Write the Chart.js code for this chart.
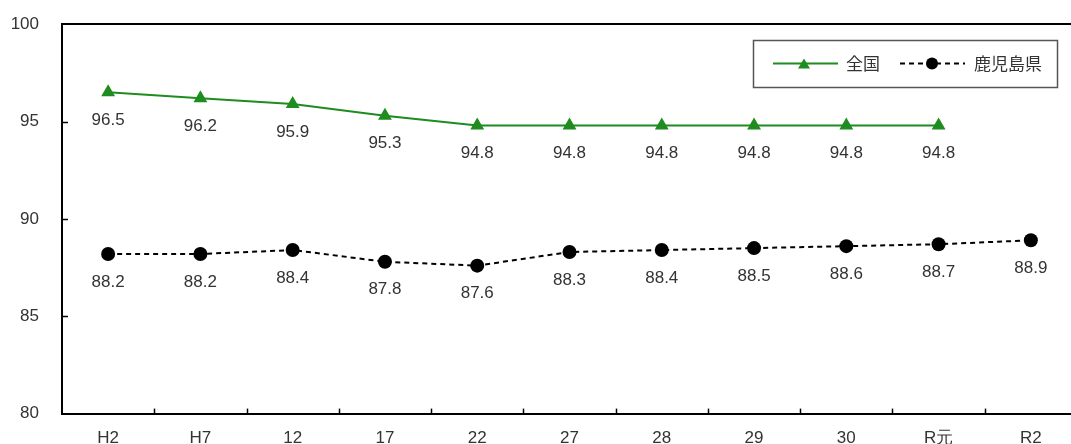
<!DOCTYPE html>
<html>
<head>
<meta charset="utf-8">
<script src="https://cdn.jsdelivr.net/npm/chart.js@4.4.1/dist/chart.umd.min.js"></script>
<style>
  html, body { margin: 0; padding: 0; background: #fff; overflow: hidden; }
  #wrap { position: relative; width: 1085px; height: 473px; margin-top: -9px; }
</style>
</head>
<body>
<div id="wrap"><canvas id="chart"></canvas></div>
<script>
// data
const years = ['H2', 'H7', '12', '17', '22', '27', '28', '29', '30', 'R元', 'R2'];
const national = [96.5, 96.2, 95.9, 95.3, 94.8, 94.8, 94.8, 94.8, 94.8, 94.8, null];
const kagoshima = [88.2, 88.2, 88.4, 87.8, 87.6, 88.3, 88.4, 88.5, 88.6, 88.7, 88.9];
const yTicks = [80, 85, 90, 95, 100];

const GREEN = '#1e8c1e';
const TEXT = '#333';
const FONT = "'Liberation Sans', Arial, sans-serif";

// inner tick marks, value labels, legend box
const decor = {
  id: 'decor',
  afterDraw(chart) {
    const { ctx, chartArea: a, scales: { x, y } } = chart;
    ctx.save();
    ctx.strokeStyle = '#000';
    ctx.lineWidth = 1.5;
    // x ticks between categories, pointing up
    for (let i = 1; i < years.length; i++) {
      const px = Math.round((x.getPixelForValue(i - 1) + x.getPixelForValue(i)) / 2) + 0.5;
      ctx.beginPath();
      ctx.moveTo(px, a.bottom);
      ctx.lineTo(px, a.bottom - 5);
      ctx.stroke();
    }
    // y ticks pointing right
    yTicks.slice(1, -1).forEach(v => {
      const py = Math.round(y.getPixelForValue(v)) + 0.5;
      ctx.beginPath();
      ctx.moveTo(a.left, py);
      ctx.lineTo(a.left + 6, py);
      ctx.stroke();
    });

    // value labels
    ctx.font = '17px ' + FONT;
    ctx.fillStyle = TEXT;
    ctx.textAlign = 'center';
    ctx.textBaseline = 'middle';
    chart.data.datasets.forEach((ds, di) => {
      chart.getDatasetMeta(di).data.forEach((pt, i) => {
        if (ds.data[i] == null) return;
        ctx.fillText(ds.data[i].toFixed(1), pt.x, pt.y + 28);
      });
    });

    // legend (page is shifted up 9px)
    const lx = 753, ly = 49, lw = 304, lh = 47;
    ctx.strokeStyle = '#555';
    ctx.lineWidth = 1.5;
    ctx.strokeRect(lx + 0.5, ly + 0.5, lw, lh);
    const cy = ly + lh / 2;
    // national
    ctx.strokeStyle = GREEN;
    ctx.lineWidth = 2;
    ctx.beginPath(); ctx.moveTo(773, cy); ctx.lineTo(838, cy); ctx.stroke();
    ctx.fillStyle = GREEN;
    ctx.beginPath();
    ctx.moveTo(804, cy - 5); ctx.lineTo(810, cy + 5); ctx.lineTo(798, cy + 5); ctx.closePath(); ctx.fill();
    ctx.fillStyle = TEXT;
    ctx.textAlign = 'left';
    ctx.font = '17px ' + "'Noto Sans CJK JP', sans-serif";
    ctx.fillText('全国', 846, cy);
    // kagoshima
    ctx.strokeStyle = '#000';
    ctx.setLineDash([5, 4]);
    ctx.beginPath(); ctx.moveTo(900, cy); ctx.lineTo(965, cy); ctx.stroke();
    ctx.setLineDash([]);
    ctx.fillStyle = '#000';
    ctx.beginPath(); ctx.arc(932, cy, 6, 0, Math.PI * 2); ctx.fill();
    ctx.fillStyle = TEXT;
    ctx.fillText('鹿児島県', 974, cy);
    ctx.restore();
  }
};

new Chart(document.getElementById('chart'), {
  type: 'line',
  data: {
    labels: years,
    datasets: [{
      label: '全国',
      data: national,
      borderColor: GREEN,
      backgroundColor: GREEN,
      borderWidth: 2,
      pointStyle: 'triangle',
      pointRadius: 8,
      pointBorderWidth: 0,
      tension: 0,
    }, {
      label: '鹿児島県',
      data: kagoshima,
      borderColor: '#000',
      backgroundColor: '#000',
      borderWidth: 2,
      borderDash: [5, 4],
      pointStyle: 'circle',
      pointRadius: 7,
      pointBorderWidth: 0,
      tension: 0,
    }]
  },
  options: {
    responsive: true,
    maintainAspectRatio: false,
    animation: false,
    layout: { padding: { top: 0, right: 0, left: 10, bottom: 0 } },
    plugins: { legend: { display: false }, tooltip: { enabled: false } },
    scales: {
      x: {
        offset: true,
        grid: { display: false, drawTicks: false },
        border: { display: true, color: '#000', width: 2 },
        ticks: { color: TEXT, font: { family: FONT, size: 17 }, padding: 15, maxRotation: 0 }
      },
      y: {
        min: 80,
        max: 100,
        afterBuildTicks: s => { s.ticks = yTicks.map(v => ({ value: v })); },
        afterFit: s => { s.width = 52; },
        grid: {
          drawTicks: false,
          color: c => c.tick && c.tick.value === 100 ? '#000' : 'transparent',
          lineWidth: 2
        },
        border: { display: true, color: '#000', width: 2 },
        ticks: { color: TEXT, font: { family: FONT, size: 17 }, padding: 23 }
      }
    }
  },
  plugins: [decor]
});
</script>
</body>
</html>
